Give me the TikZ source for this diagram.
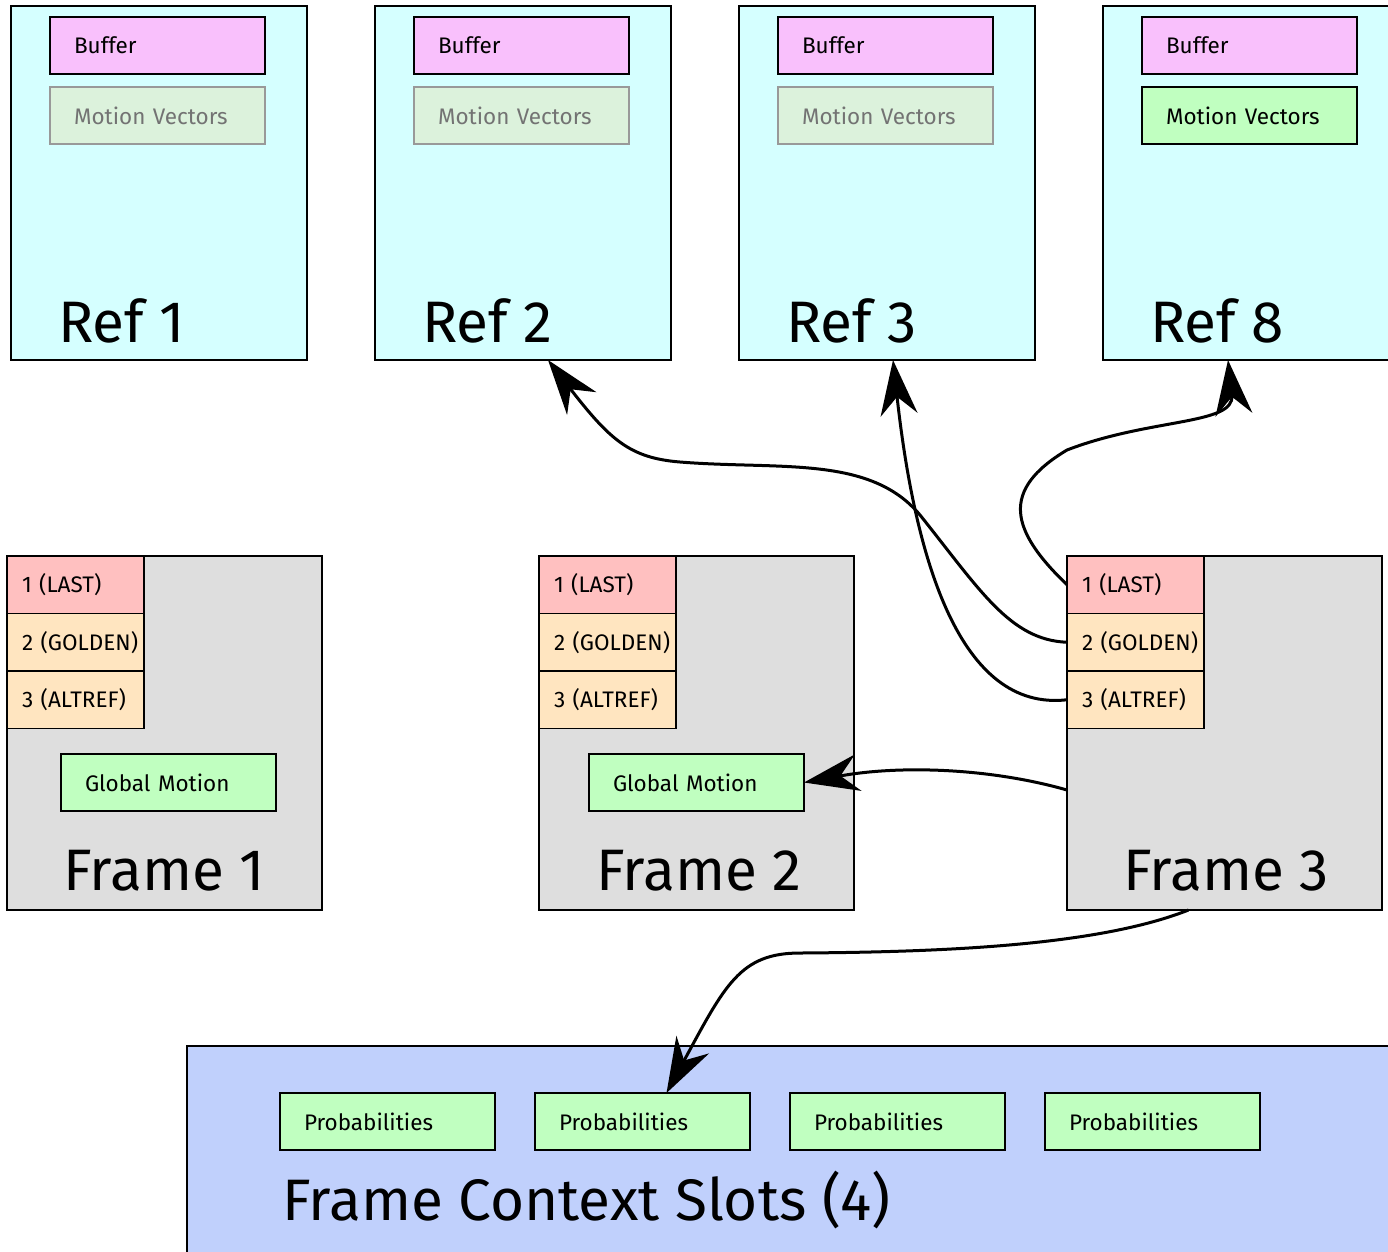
\documentclass[tikz,border=0pt]{standalone}
\usepackage{fontspec}
\setmainfont{Fira Sans}
\usetikzlibrary{arrows.meta,positioning}
\definecolor{refcyan}{HTML}{D5FFFF}
\definecolor{bufpink}{HTML}{F9C0FC}
\definecolor{mvpale}{HTML}{DCF2DC}
\definecolor{mvgreen}{HTML}{C0FFC0}
\definecolor{lastred}{HTML}{FFC0C0}
\definecolor{goldpeach}{HTML}{FFE5C0}
\definecolor{framegray}{HTML}{DEDEDE}
\definecolor{ctxblue}{HTML}{C0D0FC}

\begin{document}
\begin{tikzpicture}[x=1pt, y=-1pt,
    every node/.style={line width=1.6pt, outer sep=0pt},
    refbox/.style={draw, fill=refcyan, minimum width=296pt, minimum height=354pt, inner sep=0pt, anchor=north west},
    framebox/.style={draw, fill=framegray, minimum width=315pt, minimum height=354pt, inner sep=0pt, anchor=north west},
    ctxbox/.style={draw, fill=ctxblue, minimum width=1260pt, minimum height=260pt, inner sep=0pt, anchor=north west},
    smallbox/.style={draw, font=\fontsize{22.5}{26}\selectfont, minimum height=57pt, text width=167pt, inner xsep=24pt, inner ysep=0pt, align=left},
    bufbox/.style={smallbox, fill=bufpink},
    mvfaded/.style={smallbox, fill=mvpale, draw=black!40, text=black!55},
    mvbox/.style={smallbox, fill=mvgreen},
    gmbox/.style={smallbox, fill=mvgreen},
    probbox/.style={smallbox, fill=mvgreen},
    slotbox/.style={draw, font=\fontsize{22.5}{26}\selectfont, minimum height=57.5pt, text width=129pt, inner xsep=4pt, inner ysep=0pt, align=left, execute at begin node={\hspace*{11pt}}},
    lastslot/.style={slotbox, fill=lastred},
    goldslot/.style={slotbox, fill=goldpeach},
    biglabel/.style={font=\fontsize{58.5}{60}\selectfont, inner sep=0pt, anchor=base west},
    refarrow/.style={line width=3pt, -{Stealth[length=55pt, width=37pt, inset=18pt]}}]

    \useasboundingbox (0,0) rectangle (1388,1251);
    \clip (0,0) rectangle (1388,1251);

    \node[refbox] (ref1) at (11,6) {};
    \node[bufbox, below right=11pt and 39pt of ref1.north west] (buf1) {Buffer};
    \node[mvfaded, below=13pt of buf1] (mv1) {Motion Vectors};
    \node[biglabel] (ref1lbl) at ([shift={(47,-18)}]ref1.south west) {Ref 1};

    \node[refbox] (ref2) at (375,6) {};
    \node[bufbox, below right=11pt and 39pt of ref2.north west] (buf2) {Buffer};
    \node[mvfaded, below=13pt of buf2] (mv2) {Motion Vectors};
    \node[biglabel] (ref2lbl) at ([shift={(47,-18)}]ref2.south west) {Ref 2};

    \node[refbox] (ref3) at (739,6) {};
    \node[bufbox, below right=11pt and 39pt of ref3.north west] (buf3) {Buffer};
    \node[mvfaded, below=13pt of buf3] (mv3) {Motion Vectors};
    \node[biglabel] (ref3lbl) at ([shift={(47,-18)}]ref3.south west) {Ref 3};

    \node[refbox] (ref8) at (1103,6) {};
    \node[bufbox, below right=11pt and 39pt of ref8.north west] (buf8) {Buffer};
    \node[mvbox, below=13pt of buf8] (mv8) {Motion Vectors};
    \node[biglabel] (ref8lbl) at ([shift={(47,-18)}]ref8.south west) {Ref 8};

    \node[framebox] (fr1) at (7,556) {};
    \node[lastslot, anchor=north west] (last1) at (fr1.north west) {1 (LAST)};
    \node[goldslot, below=0pt of last1] (gold1) {2 (GOLDEN)};
    \node[goldslot, below=0pt of gold1] (alt1) {3 (ALTREF)};
    \node[gmbox, below right=198pt and 54pt of fr1.north west] (gm1) {Global Motion};
    \node[biglabel] (fr1lbl) at ([shift={(56,-20)}]fr1.south west) {Frame 1};

    \node[framebox] (fr2) at (539,556) {};
    \node[lastslot, anchor=north west] (last2) at (fr2.north west) {1 (LAST)};
    \node[goldslot, below=0pt of last2] (gold2) {2 (GOLDEN)};
    \node[goldslot, below=0pt of gold2] (alt2) {3 (ALTREF)};
    \node[gmbox, below right=198pt and 50pt of fr2.north west] (gm2) {Global Motion};
    \node[biglabel] (fr2lbl) at ([shift={(57,-20)}]fr2.south west) {Frame 2};

    \node[framebox] (fr3) at (1067,556) {};
    \node[lastslot, anchor=north west] (last3) at (fr3.north west) {1 (LAST)};
    \node[goldslot, below=0pt of last3] (gold3) {2 (GOLDEN)};
    \node[goldslot, below=0pt of gold3] (alt3) {3 (ALTREF)};
    \node[biglabel] (fr3lbl) at ([shift={(56,-20)}]fr3.south west) {Frame 3};

    \node[ctxbox] (ctx) at (187,1046) {};
    \node[probbox, below right=47pt and 93pt of ctx.north west] (prob1) {Probabilities};
    \node[probbox, right=40pt of prob1] (prob2) {Probabilities};
    \node[probbox, right=40pt of prob2] (prob3) {Probabilities};
    \node[probbox, right=40pt of prob3] (prob4) {Probabilities};
    \node[biglabel] (ctxlbl) at ([shift={(95,174)}]ctx.north west) {Frame Context Slots (4)};

    \draw[refarrow] (gold3.west) .. controls (1010,640) and (980,590) .. (920,515) .. controls (870,455) and (780,470) .. (680,462) .. controls (630,458) and (610,440) .. ([xshift=25pt]ref2.south);
    \draw[refarrow] (alt3.west) .. controls (960,712) and (915,560) .. ([xshift=6pt]ref3.south);
    \draw[refarrow] (last3.west) .. controls (1010,530) and (1000,490) .. (1067,450) .. controls (1150,418) and (1235,425) .. ([xshift=-23pt]ref8.south);

    \draw[refarrow] ([yshift=-57pt]fr3.west) .. controls (990,768) and (900,765) .. (gm2.east);
    \draw[refarrow] ([xshift=-36pt]fr3.south) .. controls (1100,945) and (950,952) .. (800,953) .. controls (740,953) and (725,985) .. ([xshift=24pt]prob2.north);

\end{tikzpicture}
\end{document}
